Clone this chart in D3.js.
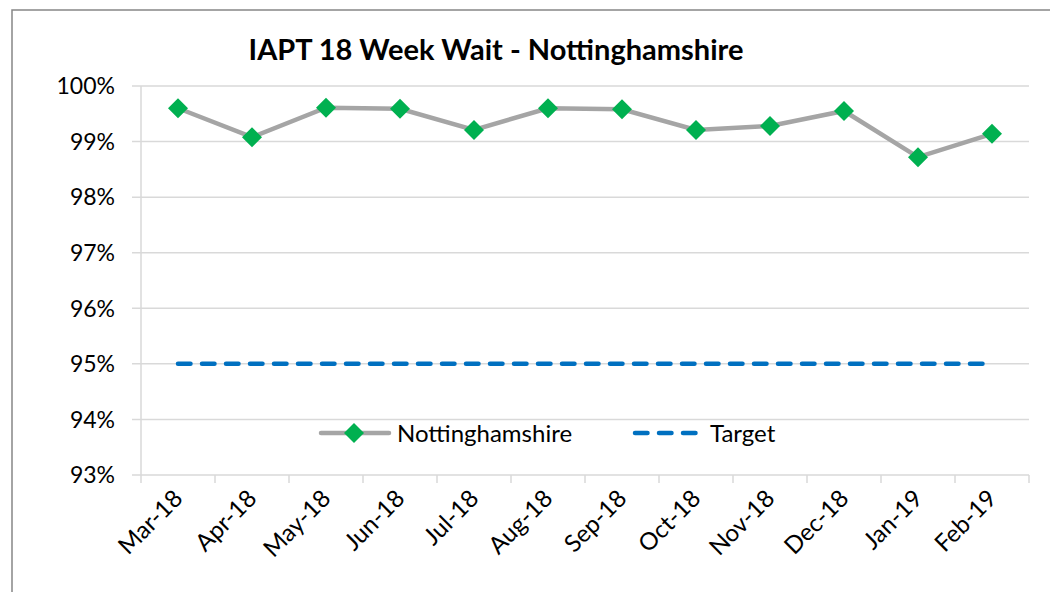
<!DOCTYPE html>
<html>
<head>
<meta charset="utf-8">
<script src="https://cdn.jsdelivr.net/npm/d3@7"></script>
<style>
  body { margin: 0; background: #fff; }
  text { font-family: Lato, "Open Sans", sans-serif; fill: #000; }
</style>
</head>
<body>
<div class="graph"></div>
<script>
const months = ['Mar-18', 'Apr-18', 'May-18', 'Jun-18', 'Jul-18', 'Aug-18',
                'Sep-18', 'Oct-18', 'Nov-18', 'Dec-18', 'Jan-19', 'Feb-19'];
const notts = [99.60, 99.08, 99.61, 99.59, 99.21, 99.60, 99.58, 99.21, 99.28, 99.55, 98.72, 99.14];
const target = [95, 95, 95, 95, 95, 95, 95, 95, 95, 95, 95, 95];
const yTicks = [93, 94, 95, 96, 97, 98, 99, 100];

const width = 1050, height = 592;
const margin = { top: 86, bottom: 117, left: 141, right: 21 };

const svg = d3.select('.graph')
    .append('svg')
    .attr('width', width)
    .attr('height', height);

// outer frame
svg.append('rect')
    .attr('x', 12).attr('y', 10)
    .attr('width', 1060).attr('height', 600)
    .attr('fill', 'none')
    .attr('stroke', '#868686')
    .attr('stroke-width', 1.5);

svg.append('text')
    .attr('x', 496)
    .attr('y', 60)
    .attr('text-anchor', 'middle')
    .style('font-size', '29px')
    .style('font-weight', 'bold')
    .text('IAPT 18 Week Wait - Nottinghamshire');

const chart = svg.append('g')
    .attr('transform', `translate(${margin.left},${margin.top})`);
const w = width - margin.left - margin.right;
const h = height - margin.top - margin.bottom;

const x = d3.scaleBand().domain(months).range([0, w]);
const y = d3.scaleLinear().domain([93, 100]).range([h, 0]);
const cx = d => x(d) + x.bandwidth() / 2;

// gridlines
chart.selectAll('.grid')
    .data(yTicks)
    .enter()
    .append('line')
    .attr('x1', -9).attr('x2', w)
    .attr('y1', d => y(d)).attr('y2', d => y(d))
    .attr('stroke', '#d9d9d9')
    .attr('stroke-width', 1.5);

chart.append('line')
    .attr('x1', 0).attr('x2', 0)
    .attr('y1', 0).attr('y2', h)
    .attr('stroke', '#d9d9d9')
    .attr('stroke-width', 1.5);

// x ticks at category boundaries
chart.selectAll('.xtick')
    .data(d3.range(months.length + 1))
    .enter()
    .append('line')
    .attr('x1', i => i * x.step()).attr('x2', i => i * x.step())
    .attr('y1', h).attr('y2', h + 8)
    .attr('stroke', '#d9d9d9')
    .attr('stroke-width', 1.5);

chart.selectAll('.ylab')
    .data(yTicks)
    .enter()
    .append('text')
    .attr('x', -26)
    .attr('y', d => y(d))
    .attr('dy', '0.36em')
    .attr('text-anchor', 'end')
    .style('font-size', '23px')
    .text(d => d + '%');

chart.selectAll('.xlab')
    .data(months)
    .enter()
    .append('text')
    .attr('text-anchor', 'end')
    .attr('transform', d => `translate(${cx(d) + 6},${h + 25}) rotate(-45)`)
    .style('font-size', '24px')
    .text(d => d);

// target line
const line = d3.line().x((d, i) => cx(months[i])).y(d => y(d));
chart.append('path')
    .datum(target)
    .attr('d', line)
    .attr('fill', 'none')
    .attr('stroke', '#0070c0')
    .attr('stroke-width', 4.5)
    .attr('stroke-linecap', 'round')
    .attr('stroke-dasharray', '12.5,11.5');

chart.append('path')
    .datum(notts)
    .attr('d', line)
    .attr('fill', 'none')
    .attr('stroke', '#a5a5a5')
    .attr('stroke-width', 4.5);

const diamond = d3.symbol().type(d3.symbolSquare).size(200);
chart.selectAll('.pt')
    .data(notts)
    .enter()
    .append('path')
    .attr('d', diamond)
    .attr('transform', (d, i) => `translate(${cx(months[i])},${y(d)}) rotate(45)`)
    .attr('fill', '#00b050');

// legend
const legend = svg.append('g').attr('transform', 'translate(0,433)');
legend.append('line')
    .attr('x1', 321).attr('x2', 389)
    .attr('stroke', '#a5a5a5').attr('stroke-width', 4.5).attr('stroke-linecap', 'round');
legend.append('path')
    .attr('d', diamond)
    .attr('transform', 'translate(354,0) rotate(45)')
    .attr('fill', '#00b050');
legend.append('text')
    .attr('x', 397).attr('dy', '0.36em')
    .style('font-size', '24px')
    .text('Nottinghamshire');
legend.append('line')
    .attr('x1', 635).attr('x2', 697)
    .attr('stroke', '#0070c0').attr('stroke-width', 4.5)
    .attr('stroke-linecap', 'round')
    .attr('stroke-dasharray', '12.5,11.5');
legend.append('text')
    .attr('x', 710).attr('dy', '0.36em')
    .style('font-size', '24px')
    .text('Target');
</script>
</body>
</html>
